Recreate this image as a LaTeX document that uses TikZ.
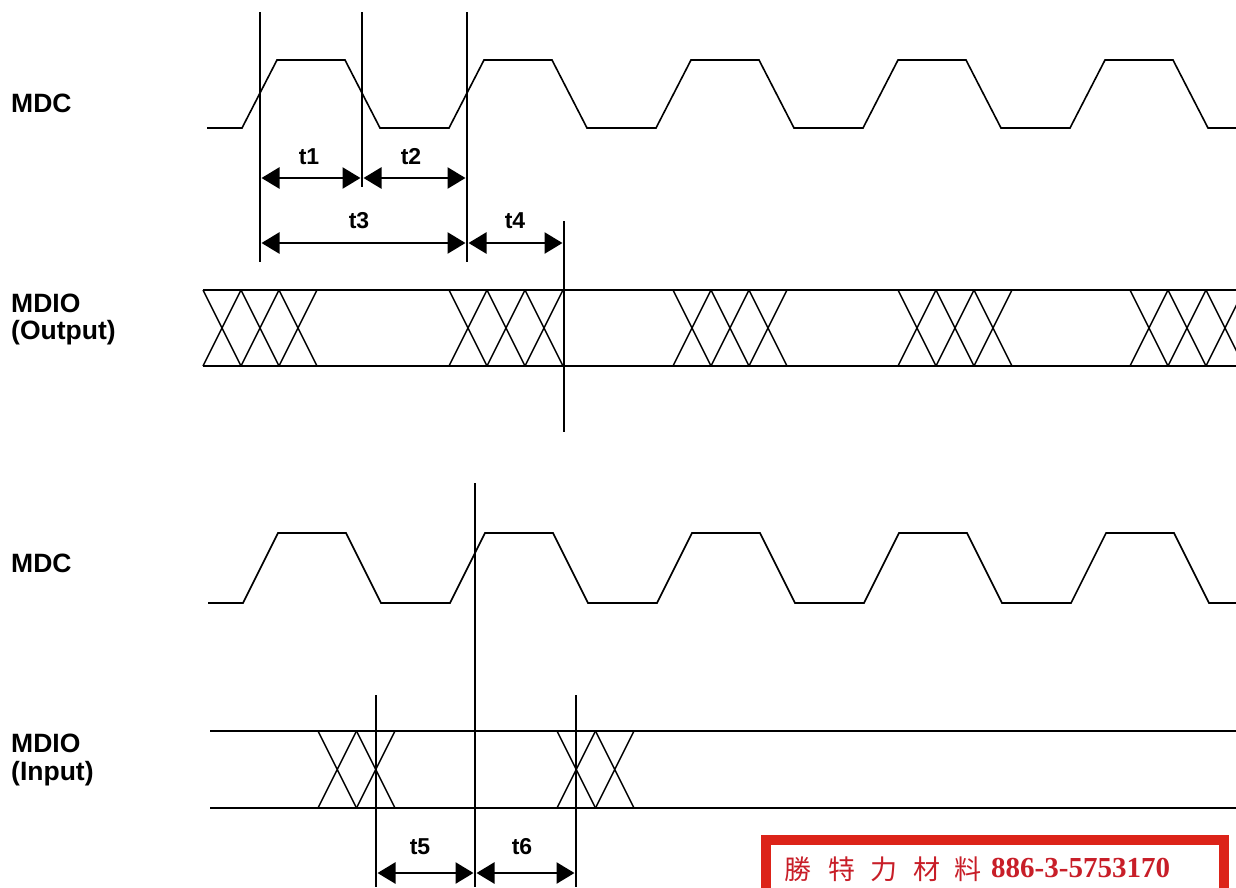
\documentclass[tikz,border=0pt]{standalone}
\usepackage{fontspec}
\setmainfont{Liberation Sans}
\newfontfamily\cjkfont{Noto Sans CJK TC}
\newfontfamily\stampnum{Liberation Serif}
\usetikzlibrary{arrows.meta}
\definecolor{stampred}{RGB}{220,35,25}
\definecolor{stamptext}{RGB}{200,30,40}
\begin{document}
\begin{tikzpicture}[x=1pt,y=-1pt,
  wave/.style={line width=1.6pt, line join=miter},
  bus/.style={line width=2.6pt},
  xing/.style={line width=1.4pt},
  marker/.style={line width=2.2pt},
  dimarrow/.style={line width=2.6pt, {Triangle[length=18pt,width=21pt]}-{Triangle[length=18pt,width=21pt]}, shorten <=1.5pt, shorten >=1.5pt},
  sig/.style={font=\bfseries\fontsize{26.5}{30}\selectfont, anchor=base west, inner sep=0pt},
  tlab/.style={font=\bfseries\fontsize{23}{27}\selectfont, inner sep=0pt},
  cjkchar/.style={font=\cjkfont\fontsize{27}{30}\selectfont, text=stamptext, inner sep=0pt},
  stampdigits/.style={font=\stampnum\bfseries\fontsize{29}{32}\selectfont, text=stamptext, inner sep=0pt}
]
\useasboundingbox (0,0) rectangle (1236,887);
\fill[white] (0,0) rectangle (1236,887);
\begin{scope}
\clip (0,0) rectangle (1236,887);
% top MDC
\draw[wave] (207,128) -- (242,128)
  \foreach \x in {242,449,656,863,1070} { -- ({\x+35},60) -- ({\x+103},60) -- ({\x+138},128) -- ({\x+207},128) };
% bottom MDC
\draw[wave] (208,603) -- (243,603)
  \foreach \x in {243,450,657,864,1071} { -- ({\x+35},533) -- ({\x+103},533) -- ({\x+138},603) -- ({\x+207},603) };
% MDIO output bus
\draw[bus] (203,290) -- (1236,290);
\draw[bus] (203,366) -- (1236,366);
\foreach \s in {203,449,673,898,1130}
  \foreach \i in {0,1,2}
    \draw[xing] ({\s+\i*38},290) -- ({\s+(\i+1)*38},366)
                ({\s+\i*38},366) -- ({\s+(\i+1)*38},290);
% MDIO input bus
\draw[bus] (210,731) -- (1236,731);
\draw[bus] (210,808) -- (1236,808);
\foreach \s in {318,557}
  \foreach \i in {0,1}
    \draw[xing] ({\s+\i*38.5},731) -- ({\s+(\i+1)*38.5},808)
                ({\s+\i*38.5},808) -- ({\s+(\i+1)*38.5},731);
% stamp
\draw[stampred, line width=10pt] (766,840) rectangle (1224,910);
\end{scope}

% marker lines
\coordinate (aT) at (260,12);  \coordinate (aB) at (260,262);
\coordinate (bT) at (362,12);  \coordinate (bB) at (362,187);
\coordinate (cT) at (467,12);  \coordinate (cB) at (467,262);
\coordinate (dT) at (564,221); \coordinate (dB) at (564,432);
\coordinate (eT) at (475,483); \coordinate (eB) at (475,887);
\coordinate (fT) at (376,695); \coordinate (fB) at (376,887);
\coordinate (gT) at (576,695); \coordinate (gB) at (576,887);
\foreach \m in {a,b,c,d,e,f,g} \draw[marker] (\m T) -- (\m B);

% arrow end points
\coordinate (a1) at (260,178); \coordinate (b1) at (362,178); \coordinate (c1) at (467,178);
\coordinate (a3) at (260,243); \coordinate (c3) at (467,243); \coordinate (d3) at (564,243);
\coordinate (f5) at (376,873); \coordinate (e5) at (475,873); \coordinate (g5) at (576,873);
\draw[dimarrow] (a1) -- (b1);
\draw[dimarrow] (b1) -- (c1);
\draw[dimarrow] (a3) -- (c3);
\draw[dimarrow] (c3) -- (d3);
\draw[dimarrow] (f5) -- (e5);
\draw[dimarrow] (e5) -- (g5);

% timing labels
\node[tlab] (lt1) at (309,157) {t1};
\node[tlab] (lt2) at (411,157) {t2};
\node[tlab] (lt3) at (359,221) {t3};
\node[tlab] (lt4) at (515,221) {t4};
\node[tlab] (lt5) at (420,847) {t5};
\node[tlab] (lt6) at (522,847) {t6};

% signal labels
\node[sig] (mdc1) at (11,112) {MDC};
\node[sig] (mdio1) at (11,312) {MDIO};
\node[sig] (out1) at (11,339) {(Output)};
\node[sig] (mdc2) at (11,572) {MDC};
\node[sig] (mdio2) at (11,752) {MDIO};
\node[sig] (in2) at (11,780) {(Input)};

% stamp text
\node[cjkchar] (s1) at (798,869) {勝};
\node[cjkchar] (s2) at (842,869) {特};
\node[cjkchar] (s3) at (884,869) {力};
\node[cjkchar] (s4) at (927,869) {材};
\node[cjkchar] (s5) at (968,869) {料};
\node[stampdigits, anchor=west] (s6) at (991,868) {886-3-5753170};
\end{tikzpicture}
\end{document}
